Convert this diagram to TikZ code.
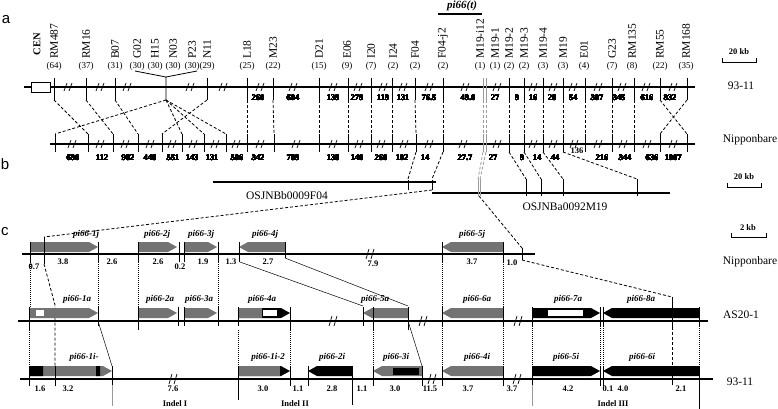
\documentclass[tikz,border=0pt]{standalone}
\usepackage{fontspec}
\setmainfont{Liberation Serif}
\newfontfamily\panelfont{Liberation Sans}
\definecolor{genegray}{HTML}{737373}
\definecolor{linkgray}{HTML}{9A9A9A}
\tikzset{chrom/.style={line width=1.7pt},bac/.style={line width=2.4pt},tick/.style={line width=0.8pt},link/.style={dash pattern=on 3pt off 2pt,line width=0.8pt},fine/.style={dash pattern=on 1pt off 1pt,line width=0.5pt},hair/.style={line width=0.5pt},mklabel/.style={rotate=90,anchor=west,inner sep=0pt,font=\fontsize{11.5}{12}\selectfont},count/.style={inner sep=0pt,font=\fontsize{9}{10}\selectfont},dist/.style={inner sep=0pt,font=\bfseries\fontsize{8.5}{9}\selectfont},gdist/.style={inner sep=0pt,font=\bfseries\fontsize{8.5}{9}\selectfont},genelabel/.style={inner sep=0pt,font=\bfseries\itshape\fontsize{9}{10}\selectfont},linename/.style={inner sep=0pt,font=\fontsize{11.5}{12}\selectfont},panel/.style={inner sep=0pt,font=\panelfont\fontsize{15}{16}\selectfont},scalebar/.style={line width=0.8pt},kb/.style={inner sep=0pt,font=\bfseries\fontsize{8.5}{9}\selectfont}}
% gene arrows: [fill]{left x}{right x}{top y}
\newcommand{\geneR}[4][genegray]{\fill[#1] (#2,#4) -- ({#3-9},#4) -- (#3,{#4+5}) -- ({#3-9},{#4+10}) -- (#2,{#4+10}) -- cycle;}
\newcommand{\geneL}[4][genegray]{\fill[#1] (#3,#4) -- ({#2+9},#4) -- (#2,{#4+5}) -- ({#2+9},{#4+10}) -- (#3,{#4+10}) -- cycle;}
% break marks
\newcommand{\brkmark}[2]{\draw[line width=0.7pt] ({#1-4},{#2+4}) -- ({#1-1},{#2-4}) ({#1+1},{#2+4}) -- ({#1+4},{#2-4});}
\newcommand{\brkmarkc}[2]{\draw[line width=0.7pt] ({#1-4},{#2+5}) -- ({#1-1},{#2-5}) ({#1+1},{#2+5}) -- ({#1+4},{#2-5});}
\begin{document}
\begin{tikzpicture}[x=1pt,y=-1pt]
\useasboundingbox (0,0) rectangle (778,408);
% ---- panel a
\node[panel] (pa) at (6,20) {a};
\node[rotate=90,inner sep=0pt,font=\bfseries\fontsize{10.5}{11}\selectfont] (cen) at (37,44) {CEN};
\draw[chrom] (24,87) -- (695,87);
\draw[line width=0.8pt,fill=white] (31,82) rectangle (50,92);
\foreach \lx/\nm/\cnt [count=\k] in {54/RM487/64,86/RM16/37,115/B07/31,137/G02/30,155/H15/30,173/N03/30,192/P23/30,207/N11/29,247/L18/25,273/M23/22,319/D21/15,347/E06/9,371/I20/7,393/I24/2,415/F04/2,443/F04-j2/2,480/M19-i12/1,495/M19-1/1,509/M19-2/2,524/M19-3/2,543/M19-4/3,563/M19/3,584/E01/4,612/G23/7,632/RM135/8,660/RM55/22,686/RM168/35}
  {\node[mklabel] (mk\k) at (\lx,59) {\nm};
   \node[count] (ct\k) at (\lx,66) {(\cnt)};}
\node[font=\bfseries\itshape\fontsize{11}{12}\selectfont,inner sep=0pt] (pit) at (462,6) {pi66(t)};
\draw[line width=1.2pt] (438,14) -- (482,14);
\foreach \tx in {54,86,115,207,247,273,319,348,371,392,415,443,509,524,543,563,585,612,634,660,687}
  \draw[tick] (\tx,78) -- (\tx,100);
\draw[tick] (135,71) -- (166,77) -- (197,71) (166,77) -- (166,100);
\draw[tick,linkgray] (483,78) -- (483,100) (486,78) -- (486,100);
\foreach \bx in {68,100,127,190,223,260,293,333,358,383,403,429,465,497,533,553,573,598,622,646,673}
  \brkmark{\bx}{87}
\foreach \dx/\dv in {258/260,293/604,333/139,357/279,383/119,403/131,429/76.5,468/49.0,495/27,517/9,533/16,552/28,573/54,597/307,619/345,647/616,670/832}
  \node[dist] at (\dx,98) {\dv};
\draw[scalebar] (722,58) -- (722,62) -- (756,62) -- (756,58);
\node[kb] (kba) at (739,52) {20 kb};
\node[linename] (s9311a) at (741,86) {93-11};
% ---- a to b
\foreach \ax/\bx in {54/88,86/113,115/138,166/55,166/182,166/204,166/226,207/162,247/247,273/274,319/319,348/348,371/371,392/392,415/416,443/443,509/509,524/524,543/543,563/563,585/585,612/612,634/634,660/687,687/660}
  \draw[link] (\ax,100) -- (\bx,134);
\draw[link,linkgray] (483,100) -- (483,134) (486,100) -- (486,134);
% ---- panel b
\node[panel] (pb) at (5,164) {b};
\draw[chrom] (50,144) -- (695,144);
\foreach \tx in {55,88,113,138,162,182,204,226,247,274,319,348,371,392,416,443,509,524,543,563,585,612,634,660,687}
  \draw[tick] (\tx,134) -- (\tx,152);
\draw[tick,linkgray] (483,134) -- (483,152) (486,134) -- (486,152);
\foreach \bx in {72,100,125,150,172,193,215,236,260,296,333,359,381,404,429,463,497,533,553,574,598,623,647,673}
  \brkmark{\bx}{144}
\foreach \dx/\dv in {73/690,102/112,128/982,150/448,173/551,192/143,212/131,237/506,258/342,293/789,333/138,357/140,381/260,402/102,425/14,465/27.7,493/27,522/9,537/14,555/44,602/216,625/344,652/636,673/1007}
  \node[dist] at (\dx,158) {\dv};
\node[dist] at (577,151) {136};
\draw[scalebar] (727,183) -- (727,187) -- (761,187) -- (761,183);
\node[kb] (kbb) at (744,177) {20 kb};
\node[linename] (snipb) at (750,140) {Nipponbare};
% BAC clones
\draw[bac] (213,182) -- (436,182);
\node[linename] (bacf) at (287,196) {OSJNBb0009F04};
\draw[bac] (432,193) -- (670,193);
\node[linename] (bacm) at (565,207) {OSJNBa0092M19};
\draw[tick] (408,180) -- (408,190) (432,180) -- (432,190);
\foreach \tx in {526,541,563,637} \draw[tick] (\tx,179) -- (\tx,196);
\draw[tick,linkgray] (478,179) -- (478,196) (480,179) -- (480,196);
\foreach \ax/\bx in {416/408,443/432,509/526,524/541,543/563,563/637}
  \draw[link] (\ax,152) -- (\bx,179);
\draw[link,linkgray] (483,152) -- (478,179) (486,152) -- (480,179);
% ---- b to c
\draw[link] (432,190) -- (44,237);
\draw[link] (479,196) -- (522,248);
% ---- panel c
\node[panel] (pc) at (5,232) {c};
\draw[scalebar] (731,233) -- (731,237) -- (766,237) -- (766,233);
\node[kb] (kbc) at (748,228) {2 kb};
% Nipponbare
\draw[chrom] (22,254) -- (535,254);
\geneR{30}{98}{242} \geneR{138}{177}{242} \geneR{184}{217}{242}
\geneL{239}{285}{242} \geneL{442}{503}{242}
\foreach \tx in {30,98,138,179,184,218,239,442,503} \draw[tick] (\tx,242) -- (\tx,262);
\draw[tick] (44,237) -- (44,264) (285,242) -- (285,258) (522,248) -- (522,260);
\brkmarkc{370}{254}
\node[genelabel] (g1j) at (86,234) {pi66-1j};
\node[genelabel] (g2j) at (157,234) {pi66-2j};
\node[genelabel] (g3j) at (201,234) {pi66-3j};
\node[genelabel] (g4j) at (265,234) {pi66-4j};
\node[genelabel] (g5j) at (472,234) {pi66-5j};
\foreach \dx/\dy/\dv in {34/267/0.7,63/262/3.8,112/262/2.6,158/262/2.6,180/267/0.2,203/262/1.9,231/262/1.3,268/262/2.7,373/264/7.9,472/262/3.7,512/263/1.0}
  \node[gdist] at (\dx,\dy) {\dv};
\node[linename] (snipc) at (750,262) {Nipponbare};
% Nipponbare to AS20-1
\foreach \tx in {30,98,138,218,442,503} \draw[fine] (\tx,262) -- (\tx,308);
\draw[hair] (240,262) -- (363,306) (285,258) -- (408,306);
\draw[link] (44,264) -- (55,305) -- (55,370);
\draw[tick] (55,372) -- (55,385);
\draw[link] (522,260) -- (672,297);
% AS20-1
\draw[chrom] (18,321) -- (708,321);
\geneR{30}{98}{308}
\draw[hair,fill=white,draw=genegray] (35,309.5) rectangle (44,316.5);
\geneR{138}{177}{308} \geneR{184}{217}{308}
\geneR[black]{238}{290}{308}
\fill[genegray] (238,308) rectangle (262,318);
\draw[hair,fill=white] (262,309.5) rectangle (277,316.5);
\geneL{363}{408}{308} \geneL{442}{503}{308}
\geneR[black]{532}{600}{308}
\draw[hair,fill=white] (547,309.5) rectangle (583,316.5);
\geneL[black]{603}{699}{308}
\foreach \tx in {29,138,290,373,408} \draw[tick] (\tx,307) -- (\tx,330);
\foreach \tx in {98,178,184,218,238,363,442,503,532,600,603,699} \draw[tick] (\tx,307) -- (\tx,326);
\draw[tick] (672,297) -- (672,327);
\draw[link] (672,327) -- (672,370);
\draw[tick] (672,370) -- (672,385);
\brkmarkc{333}{321} \brkmarkc{423}{321} \brkmarkc{518}{321}
\node[genelabel] (g1a) at (77,299) {pi66-1a};
\node[genelabel] (g2a) at (160,299) {pi66-2a};
\node[genelabel] (g3a) at (199,299) {pi66-3a};
\node[genelabel] (g4a) at (262,299) {pi66-4a};
\node[genelabel] (g5a) at (375,299) {pi66-5a};
\node[genelabel] (g6a) at (477,299) {pi66-6a};
\node[genelabel] (g7a) at (568,299) {pi66-7a};
\node[genelabel] (g8a) at (641,299) {pi66-8a};
\node[linename] (sas) at (741,315) {AS20-1};
% AS20-1 to 93-11
\foreach \tx in {29,238,290,373} \draw[fine] (\tx,330) -- (\tx,366);
\foreach \tx in {442,503,532,600,603,699} \draw[fine] (\tx,326) -- (\tx,366);
\draw[hair] (98,321) -- (112,366) (408,321) -- (422,366);
% 93-11
\draw[chrom] (20,379) -- (713,379);
\geneR{29}{112}{366}
\fill[black] (29,366) rectangle (43,376) (96,366) rectangle (100,376);
\geneR[black]{238}{290}{366}
\fill[genegray] (238,366) rectangle (280,376);
\geneL[black]{308}{352}{366}
\geneL{373}{422}{366}
\fill[black] (393,367.5) rectangle (419,374.5);
\geneL{442}{503}{366}
\geneR[black]{532}{600}{366}
\geneL[black]{603}{699}{366}
\foreach \tx in {29,55,290,308,373,422,442,503,600,603} \draw[tick] (\tx,366) -- (\tx,386);
\draw[tick] (112,366) -- (112,385) (238,366) -- (238,400) (352,366) -- (352,405) (699,366) -- (699,410) (532,366) -- (532,385);
\draw[tick,linkgray] (112,385) -- (112,406) (532,385) -- (532,406);
\brkmarkc{173}{379} \brkmarkc{432}{379} \brkmarkc{517}{379}
\node[genelabel] (g1i) at (84,357) {pi66-1i-};
\node[genelabel] (g1i2) at (268,357) {pi66-1i-2};
\node[genelabel] (g2i) at (332,357) {pi66-2i};
\node[genelabel] (g3i) at (396,357) {pi66-3i};
\node[genelabel] (g4i) at (477,357) {pi66-4i};
\node[genelabel] (g5i) at (566,357) {pi66-5i};
\node[genelabel] (g6i) at (642,357) {pi66-6i};
\foreach \dx/\dv in {40/1.6,68/3.2,173/7.6,263/3.0,298/1.1,332/2.8,362/1.1,395/3.0,430/11.5,468/3.7,512/3.7,568/4.2,608/0.1,623/4.0,681/2.1}
  \node[gdist] at (\dx,389) {\dv};
\node[gdist] (ind1) at (175,404) {Indel I};
\node[gdist] (ind2) at (295,404) {Indel II};
\node[gdist] (ind3) at (613,404) {Indel III};
\node[linename] (s9311c) at (740,382) {93-11};
\end{tikzpicture}
\end{document}
